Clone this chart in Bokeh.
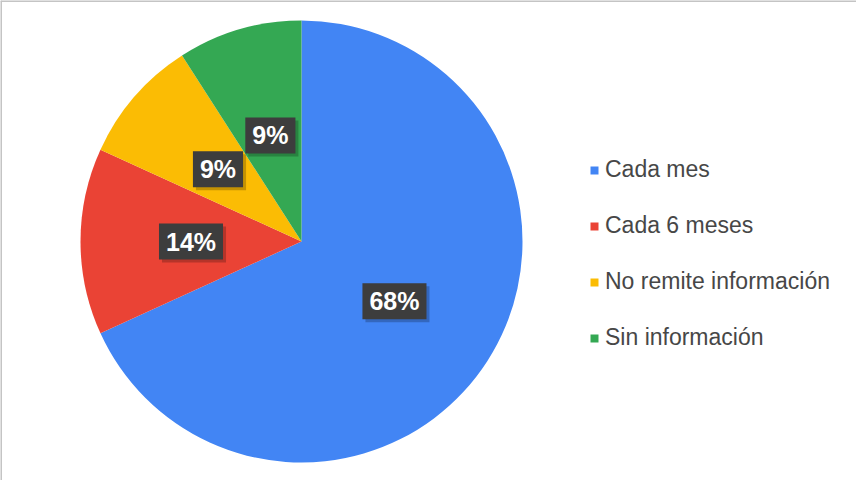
import numpy as np
from bokeh.plotting import figure
from bokeh.models import ColumnDataSource, Range1d, Span
from bokeh.embed import file_html
from bokeh.resources import INLINE
from bokeh.core.properties import value

# ---- data ----
categories = ["Cada mes", "Cada 6 meses", "No remite información", "Sin información"]
counts = [15, 3, 2, 2]
colors = ["#4285F4", "#EA4335", "#FBBC04", "#34A853"]

# ---- layout (pixels) ----
W, H = 856, 480
cx, cy, R = 301, 241, 221

frac = np.array(counts, dtype=float) / sum(counts)
cum = np.concatenate([[0.0], np.cumsum(frac)])
start = np.pi / 2 - cum[:-1] * 2 * np.pi
end = np.pi / 2 - cum[1:] * 2 * np.pi
mid = (start + end) / 2
labels = [f"{round(f * 100)}%" for f in frac]

src = ColumnDataSource(dict(
    cat=categories, start=start, end=end, color=colors,
    lx=0.5 * np.cos(mid), ly=0.5 * np.sin(mid), label=labels,
))

p = figure(width=W, height=H, output_backend="svg", toolbar_location=None,
           x_range=Range1d(-cx / R, (W - cx) / R),
           y_range=Range1d(-(H - cy) / R, cy / R),
           x_axis_location=None, y_axis_location=None,
           min_border=0, outline_line_color=None, background_fill_color="white",
           border_fill_color="white")
p.grid.visible = False

p.wedge(x=0, y=0, radius=1, start_angle="start", end_angle="end", direction="clock",
        fill_color="color", line_color=None, source=src, legend_field="cat")

# label shadow
p.text(x="lx", y="ly", text="label", source=src, text_align="center", text_baseline="middle",
       text_font=value("Liberation Sans"), text_font_style="bold", text_font_size="25px",
       text_alpha=0, x_offset=3, y_offset=3,
       background_fill_color="#000000", background_fill_alpha=0.22, padding=(7, 4))
# label
p.text(x="lx", y="ly", text="label", source=src, text_align="center", text_baseline="middle",
       text_font=value("Liberation Sans"), text_font_style="bold", text_font_size="25px",
       text_color="white", background_fill_color="#3d3d3d", padding=(7, 4))

lg = p.legend[0]
lg.location = (589, 129)
lg.border_line_color = None
lg.background_fill_alpha = 0
lg.padding = 0
lg.margin = 0
lg.spacing = 29
lg.glyph_width = 10
lg.glyph_height = 10
lg.label_standoff = 6
lg.label_text_font = "Liberation Sans"
lg.label_text_font_size = "23px"
lg.label_text_color = "#474747"

p.add_layout(Span(location=cy / R - 0.5 / R, dimension="width", line_color="#c4c4c4", line_width=2))
p.add_layout(Span(location=-cx / R + 0.5 / R, dimension="height", line_color="#c4c4c4", line_width=2))

open("out.html", "w").write(file_html(p, INLINE))
